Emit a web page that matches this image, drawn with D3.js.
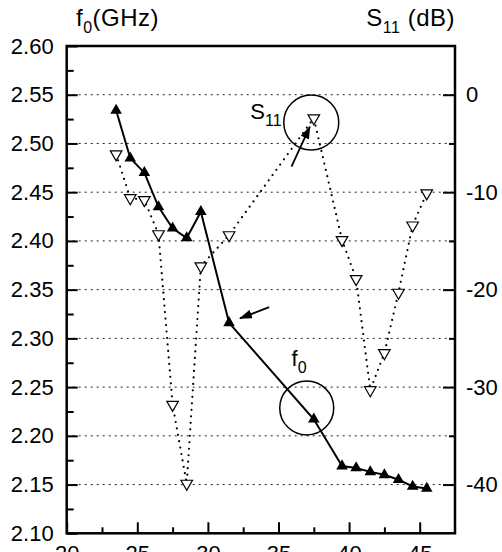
<!DOCTYPE html>
<html>
<head>
<meta charset="utf-8">
<script src="https://cdn.jsdelivr.net/npm/d3@7"></script>
<style>
  body { margin: 0; background: #fff; }
  text { font-family: "Liberation Sans", Arial, sans-serif; }
</style>
</head>
<body>
<div id="chart"></div>
<script>
// data
var position = [23.5, 24.5, 25.5, 26.5, 27.5, 28.5, 29.5, 31.5, 37.5, 39.5, 40.5, 41.5, 42.5, 43.5, 44.5, 45.5];
var f0 = [2.534, 2.485, 2.470, 2.435, 2.413, 2.403, 2.430, 2.316, 2.217, 2.169, 2.167, 2.163, 2.160, 2.155, 2.148, 2.146];
var s11 = [-6.1, -10.6, -10.8, -14.3, -31.8, -39.9, -17.6, -14.4, -2.4, -14.9, -18.9, -30.3, -26.5, -20.3, -13.4, -10.1];

var xTicks = [20, 25, 30, 35, 40, 45];
var xMinor = [22.5, 27.5, 32.5, 37.5, 42.5];
var leftTicks = [2.10, 2.15, 2.20, 2.25, 2.30, 2.35, 2.40, 2.45, 2.50, 2.55, 2.60];
var leftMinor = [2.125, 2.175, 2.225, 2.275, 2.325, 2.375, 2.425, 2.475, 2.525, 2.575];
var rightTicks = [0, -10, -20, -30, -40];
var rightMinor = [-5, -15, -25, -35];
var gridValues = [2.15, 2.20, 2.25, 2.30, 2.35, 2.40, 2.45, 2.50, 2.55];

var W = 502, H = 552;
var margin = {top: 46, right: 47, bottom: 18.7, left: 66.7};
var width = W - margin.left - margin.right,
    height = H - margin.top - margin.bottom;

var svg = d3.select("#chart")
  .append("svg")
    .attr("width", W)
    .attr("height", H)
  .append("g")
    .attr("transform", "translate(" + margin.left + "," + margin.top + ")");

var x = d3.scaleLinear().domain([20, 47.5]).range([0, width]);
var yL = d3.scaleLinear().domain([2.10, 2.60]).range([height, 0]);
var yR = d3.scaleLinear().domain([-45, 5]).range([height, 0]);

// arrow head
svg.append("defs").append("marker")
    .attr("id", "head")
    .attr("viewBox", "0 0 13 9")
    .attr("refX", 12).attr("refY", 4.5)
    .attr("markerWidth", 13).attr("markerHeight", 9)
    .attr("markerUnits", "userSpaceOnUse")
    .attr("orient", "auto")
  .append("path")
    .attr("d", "M0,0L13,4.5L0,9z")
    .attr("fill", "#000");

// grid
svg.append("g")
  .selectAll("line")
  .data(gridValues)
  .enter()
  .append("line")
    .attr("x1", 0).attr("x2", width)
    .attr("y1", function(d) { return yL(d); })
    .attr("y2", function(d) { return yL(d); })
    .attr("stroke", "#222")
    .attr("stroke-width", 1)
    .attr("stroke-dasharray", "2,4");

// axes, ticks pointing inward
var fmt2 = d3.format(".2f");
var axL = svg.append("g")
  .call(d3.axisLeft(yL).tickValues(leftTicks).tickFormat(fmt2).tickSize(-11).tickSizeOuter(0).tickPadding(13));
var axLm = svg.append("g")
  .call(d3.axisLeft(yL).tickValues(leftMinor).tickFormat("").tickSize(-7).tickSizeOuter(0));
var axR = svg.append("g")
  .attr("transform", "translate(" + width + ",0)")
  .call(d3.axisRight(yR).tickValues(rightTicks).tickFormat(function(d) { return String(d); }).tickSize(-12).tickSizeOuter(0).tickPadding(11));
var axRm = svg.append("g")
  .attr("transform", "translate(" + width + ",0)")
  .call(d3.axisRight(yR).tickValues(rightMinor).tickFormat("").tickSize(-6).tickSizeOuter(0));
var axB = svg.append("g")
  .attr("transform", "translate(0," + height + ")")
  .call(d3.axisBottom(x).tickValues(xTicks).tickFormat(d3.format("d")).tickSize(-11).tickSizeOuter(0).tickPadding(12));
var axBm = svg.append("g")
  .attr("transform", "translate(0," + height + ")")
  .call(d3.axisBottom(x).tickValues(xMinor).tickFormat("").tickSize(-6).tickSizeOuter(0));

[axL, axLm, axR, axRm, axB, axBm].forEach(function(a) {
  a.select(".domain").remove();
  a.selectAll("line").attr("stroke", "#000").attr("stroke-width", 2);
  a.selectAll("text").style("font-size", "22px").attr("fill", "#000");
});

// frame
svg.append("rect")
  .attr("width", width).attr("height", height)
  .attr("fill", "none")
  .attr("stroke", "#000")
  .attr("stroke-width", 2.5);

var data = position.map(function(p, i) { return {x: p, f: f0[i], s: s11[i]}; });

// S11 dotted line
svg.append("path")
  .datum(data)
  .attr("fill", "none")
  .attr("stroke", "#000")
  .attr("stroke-width", 2.2)
  .attr("stroke-linecap", "round")
  .attr("stroke-dasharray", "0,6.5")
  .attr("d", d3.line().x(function(d) { return x(d.x); }).y(function(d) { return yR(d.s); }));

// f0 solid line
svg.append("path")
  .datum(data)
  .attr("fill", "none")
  .attr("stroke", "#000")
  .attr("stroke-width", 2)
  .attr("d", d3.line().x(function(d) { return x(d.x); }).y(function(d) { return yL(d.f); }));

var tri = d3.symbol().type(d3.symbolTriangle).size(58);

svg.append("g")
  .selectAll("path")
  .data(data)
  .enter()
  .append("path")
    .attr("d", tri)
    .attr("transform", function(d) { return "translate(" + x(d.x) + "," + yR(d.s) + ") rotate(180)"; })
    .attr("fill", "#fff")
    .attr("stroke", "#000")
    .attr("stroke-width", 1.2);

svg.append("g")
  .selectAll("path")
  .data(data)
  .enter()
  .append("path")
    .attr("d", tri)
    .attr("transform", function(d) { return "translate(" + x(d.x) + "," + yL(d.f) + ")"; })
    .attr("fill", "#000");

// annotations
svg.append("circle")
  .attr("cx", x(37.32)).attr("cy", yR(-2.85)).attr("r", 27.5)
  .attr("fill", "none").attr("stroke", "#000").attr("stroke-width", 1.5);
svg.append("circle")
  .attr("cx", x(37.0)).attr("cy", yL(2.2286)).attr("r", 27)
  .attr("fill", "none").attr("stroke", "#000").attr("stroke-width", 1.5);

svg.append("line")
  .attr("x1", x(35.92)).attr("y1", yR(-7.38))
  .attr("x2", x(37.22)).attr("y2", yR(-3.28))
  .attr("stroke", "#000").attr("stroke-width", 1.8)
  .attr("marker-end", "url(#head)");
svg.append("line")
  .attr("x1", x(34.34)).attr("y1", yL(2.332))
  .attr("x2", x(32.27)).attr("y2", yL(2.3206))
  .attr("stroke", "#000").attr("stroke-width", 1.8)
  .attr("marker-end", "url(#head)");

var s11Label = svg.append("text")
  .attr("x", x(33.0)).attr("y", yR(-2.5))
  .style("font-size", "22px");
s11Label.append("tspan").text("S");
s11Label.append("tspan").attr("dy", 7).style("font-size", "16px").text("11");

var f0Label = svg.append("text")
  .attr("x", x(35.93)).attr("y", yL(2.2717))
  .style("font-size", "22px");
f0Label.append("tspan").text("f");
f0Label.append("tspan").attr("dy", 7).style("font-size", "16px").text("0");

// axis titles
var leftTitle = svg.append("text")
  .attr("x", 76 - margin.left).attr("y", 26 - margin.top)
  .style("font-size", "24px")
  .style("letter-spacing", "0.5px");
leftTitle.append("tspan").text("f");
leftTitle.append("tspan").attr("dy", 7).style("font-size", "16px").text("0");
leftTitle.append("tspan").attr("dy", -7).text("(GHz)");

var rightTitle = svg.append("text")
  .attr("x", width).attr("y", 26 - margin.top)
  .attr("text-anchor", "end")
  .style("font-size", "24px")
  .style("letter-spacing", "0.5px");
rightTitle.append("tspan").text("S");
rightTitle.append("tspan").attr("dy", 7).style("font-size", "16px").text("11");
rightTitle.append("tspan").attr("dy", -7).text(" (dB)");
</script>
</body>
</html>
